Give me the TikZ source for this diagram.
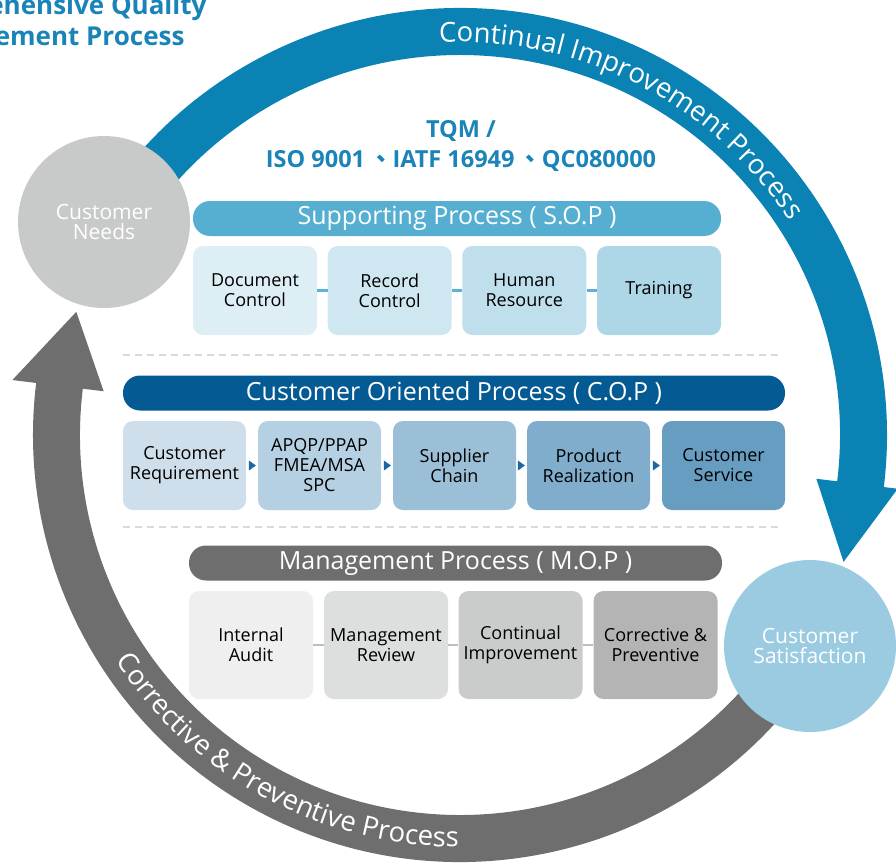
\documentclass[tikz,border=0pt]{standalone}
\usepackage{fontspec}
\setmainfont{Open Sans}
\newfontfamily\cjkfont{Noto Sans CJK TC}
\usetikzlibrary{arrows.meta,decorations.text}

\definecolor{cipblue}{HTML}{0A82B4}
\definecolor{cpgrey}{HTML}{6E6E6E}
\definecolor{titleblue}{HTML}{1A84B8}
\definecolor{needsgrey}{HTML}{C8C9C9}
\definecolor{satisblue}{HTML}{9ACBE1}
\definecolor{sopbar}{HTML}{56AFD1}
\definecolor{copbar}{HTML}{045A93}
\definecolor{mopbar}{HTML}{6E6E6E}
\definecolor{sopA}{HTML}{DDEEF5}
\definecolor{sopB}{HTML}{CFE7F1}
\definecolor{sopC}{HTML}{BFDFEC}
\definecolor{sopD}{HTML}{ADD6E7}
\definecolor{copA}{HTML}{CEDEEA}
\definecolor{copB}{HTML}{B4D0E2}
\definecolor{copC}{HTML}{9BBFD6}
\definecolor{copD}{HTML}{80ADCC}
\definecolor{copE}{HTML}{669DC0}
\definecolor{mopA}{HTML}{EFEFEF}
\definecolor{mopB}{HTML}{DDDEDE}
\definecolor{mopC}{HTML}{CACBCB}
\definecolor{mopD}{HTML}{B4B4B4}
\definecolor{sopline}{HTML}{5DB3D4}
\definecolor{copline}{HTML}{1C66A2}
\definecolor{mopline}{HTML}{BEBEBE}
\definecolor{sepgrey}{HTML}{DADADA}

\newcommand\arcfont{\fontsize{27.5}{27.5}\selectfont}

\begin{document}
\begin{tikzpicture}[x=1pt,y=-1pt,
    bar/.style={rounded corners=17pt, minimum height=35pt, inner sep=0pt,
        text=white, font=\fontsize{25}{25}\selectfont},
    box/.style={rounded corners=10pt, minimum height=89pt, inner sep=0pt,
        text=black, align=center, font=\fontsize{18}{20}\selectfont},
    bubble/.style={circle, minimum size=172pt, inner sep=0pt, text=white,
        align=center, font=\fontsize{21}{20}\selectfont},
    seam/.style={line width=2.5pt},
    flowtip/.style={-{Triangle[length=7pt,width=10pt]}, copline,
        shorten <=2.5pt, shorten >=2pt},
    sepline/.style={draw=sepgrey, line width=2pt, dash pattern=on 7pt off 5pt},
    heading/.style={titleblue, font=\bfseries\fontsize{23.5}{23.5}\selectfont}]

    \useasboundingbox (0,0) rectangle (896,862);
    \clip (0,0) rectangle (896,862);

    % ring
    \begin{scope}[shift={(460,435)}, y=1pt]
        \fill[cipblue] (150:427) arc[start angle=150, end angle=-7, radius=427]
            -- (-7:441) -- (-18.3:404) -- (-7:359) -- (-7:380)
            arc[start angle=-7, end angle=150, radius=380] -- cycle;
        \fill[cpgrey] (-31:427) arc[start angle=-31, end angle=-187, radius=427]
            -- (-187:451) -- (-197.8:403) -- (-187:359) -- (-187:380)
            arc[start angle=-187, end angle=-31, radius=380] -- cycle;
        \path[decorate, decoration={text along path, text color=white, text align=center,
            text={|\arcfont|Continual Improvement Process}}]
            (95:393) arc[start angle=95, end angle=31, radius=393];
        \path[decorate, decoration={text along path, text color=white, text align=center,
            text={|\arcfont|Corrective {\&} Preventive Process}}]
            (212:412) arc[start angle=212, end angle=271, radius=412];
    \end{scope}

    \node[bubble, fill=needsgrey] (needs) at (104,222) {Customer\\Needs};
    \node[bubble, fill=satisblue] (satis) at (810,646) {Customer\\Satisfaction};

    % titles
    \node[heading, font=\bfseries\fontsize{26}{26}\selectfont, anchor=base east] (ttl1) at (210,14) {Comprehensive Quality};
    \node[heading, font=\bfseries\fontsize{26}{26}\selectfont, anchor=base east] (ttl2) at (188,45) {Management Process};
    \node[heading, anchor=base] (tqm) at (461,137) {TQM /};
    \node[heading, anchor=base] (iso) at (461,167) {ISO 9001\,{\cjkfont 、}IATF 16949\,{\cjkfont 、}QC080000};

    % supporting process
    \node[bar, fill=sopbar, minimum width=528pt] (sop) at (457,218.5) {Supporting Process ( S.O.P )};
    \foreach \i/\x/\c/\t in {1/255/sopA/{Document\\Control}, 2/389.7/sopB/{Record\\Control},
            3/524.3/sopC/{Human\\Resource}, 4/659/sopD/{Training}}
        \node[box, fill=\c, minimum width=124pt] (s\i) at (\x,290.5) {\t};
    \foreach \i/\j in {1/2,2/3,3/4}
        \draw[seam, sopline] (s\i.east) -- (s\j.west);

    \draw[sepline] (123,355) -- (782,355);

    % customer oriented process
    \node[bar, fill=copbar, minimum width=662pt] (cop) at (454,393) {Customer Oriented Process ( C.O.P )};
    \foreach \i/\x/\c/\t in {1/184.5/copA/{Customer\\Requirement}, 2/319.5/copB/{APQP/PPAP\\FMEA/MSA\\SPC},
            3/454.5/copC/{Supplier\\Chain}, 4/588.5/copD/{Product\\Realization}, 5/723.5/copE/{Customer\\Service}}
        \node[box, fill=\c, minimum width=123pt] (c\i) at (\x,465.5) {\t};
    \foreach \i/\j in {1/2,2/3,3/4,4/5}
        \draw[flowtip] (c\i.east) -- (c\j.west);

    \draw[sepline] (123,527) -- (782,527);

    % management process
    \node[bar, fill=mopbar, minimum width=533pt] (mop) at (455.5,563) {Management Process ( M.O.P )};
    \foreach \i/\x/\c/\t in {1/251/mopA/{Internal\\Audit}, 2/386/mopB/{Management\\Review},
            3/520.5/mopC/{Continual\\Improvement}, 4/655.5/mopD/{Corrective \&\\Preventive}}
        \node[box, fill=\c, minimum width=124pt, minimum height=108pt] (m\i) at (\x,645) {\t};
    \foreach \i/\j in {1/2,2/3,3/4}
        \draw[seam, mopline] (m\i.east) -- (m\j.west);
\end{tikzpicture}
\end{document}
